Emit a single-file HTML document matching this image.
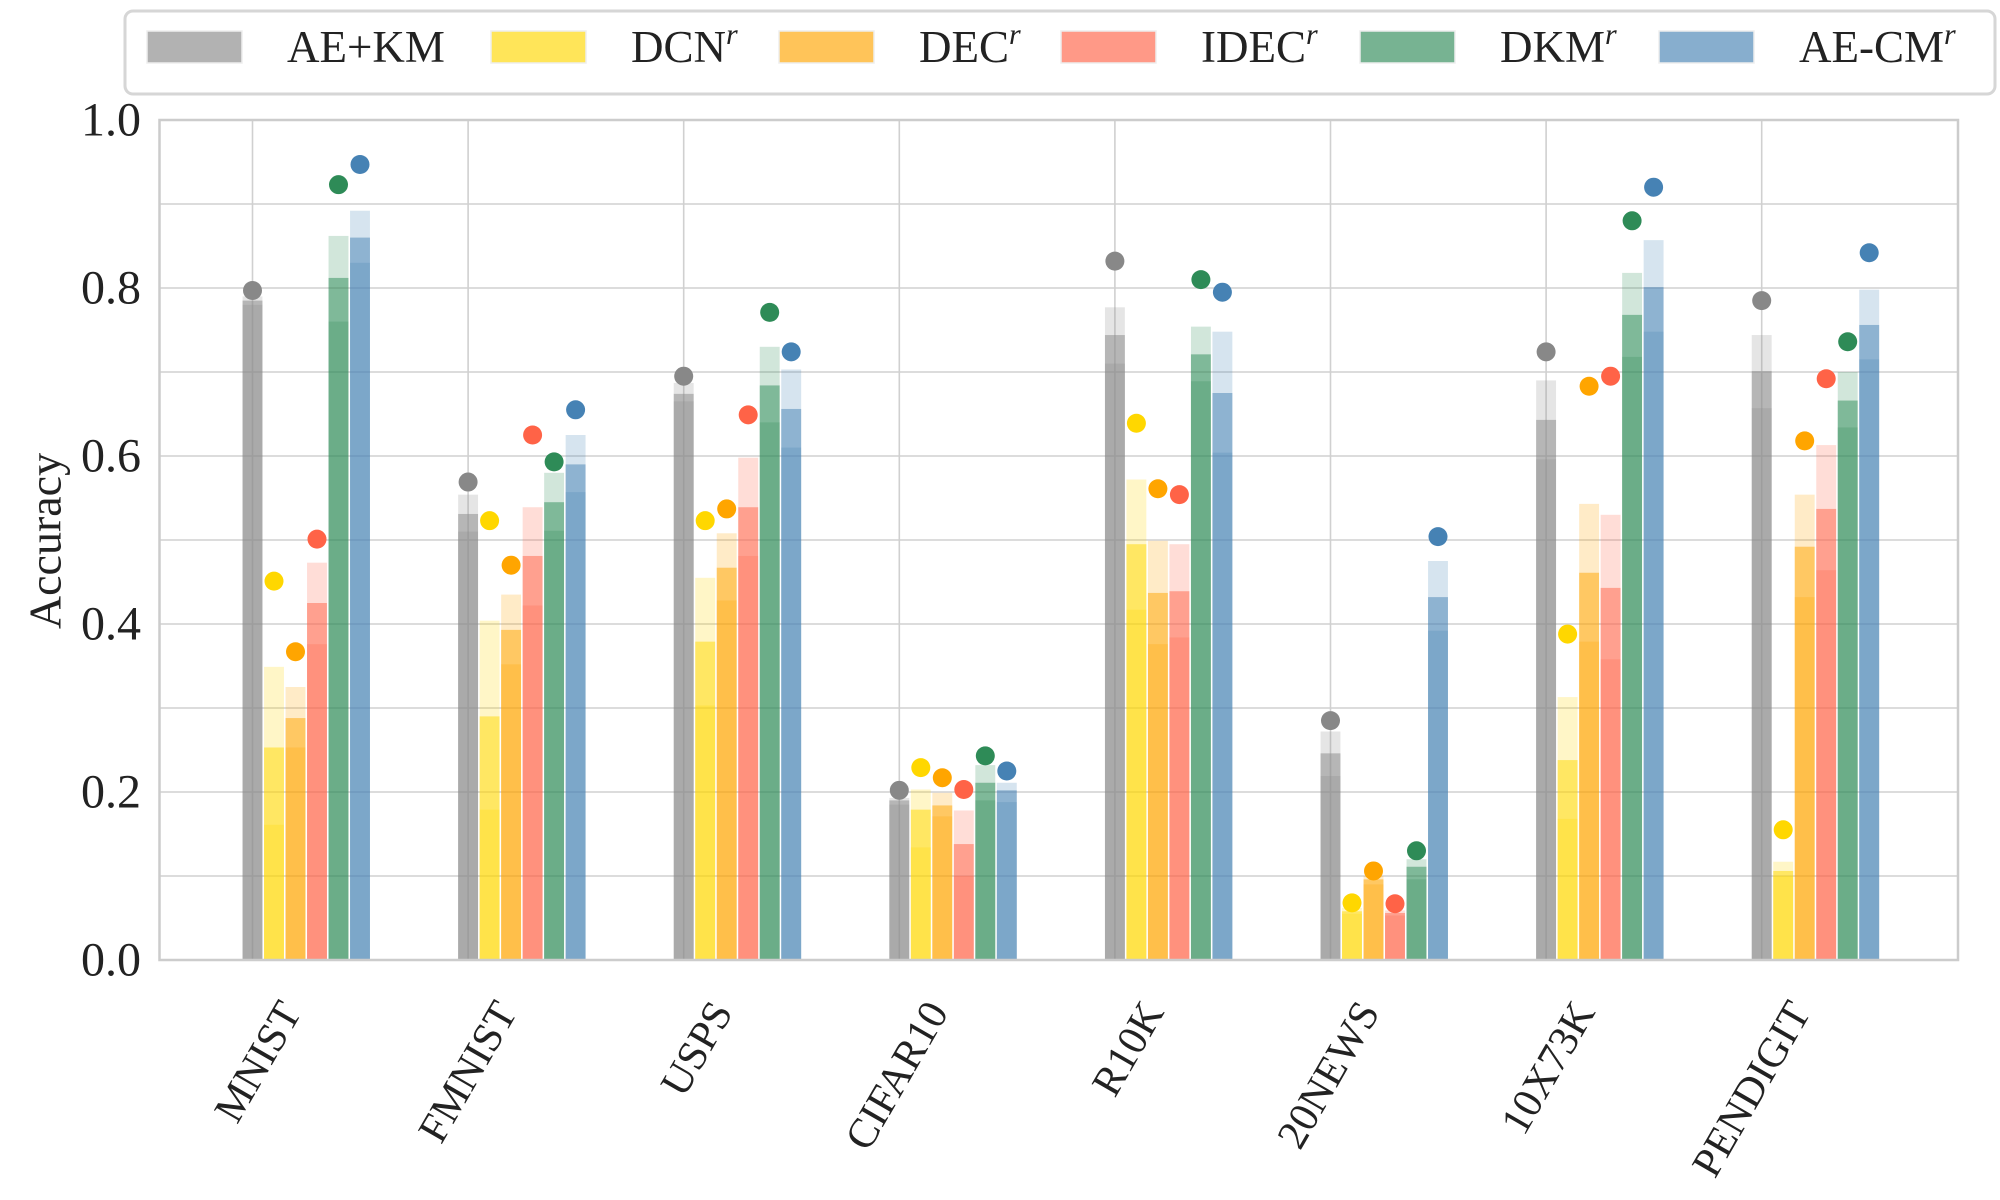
<!DOCTYPE html>
<html><head><meta charset="utf-8"><style>
body{margin:0;background:#fff;}
svg{display:block;font-family:"Liberation Serif","Times New Roman",serif;}
svg text{font-family:"Liberation Serif","Times New Roman",serif;}
</style></head><body>
<svg id="chart" width="2000" height="1200" viewBox="0 0 2000 1200">
<g id="grid"></g>
<g id="bars"></g>
<g id="dots"></g>
<g id="axes"></g>
<text x="45" y="541" transform="rotate(-90 45 541)" text-anchor="middle" dominant-baseline="central" font-size="46" fill="#222">Accuracy</text>
<g id="legend">
<rect x="125" y="11" width="1870" height="83" rx="8" fill="#fff" stroke="#d6d6d6" stroke-width="3"/>
</g>
</svg>
<script>
const categories=["MNIST","FMNIST","USPS","CIFAR10","R10K","20NEWS","10X73K","PENDIGIT"];
const methods=["AE+KM","DCN","DEC","IDEC","DKM","AE-CM"];
const colors=["#888888","#FFD700","#FFA500","#FF6347","#2E8B57","#4682B4"];
const yTicks=[0,0.2,0.4,0.6,0.8,1.0];
// best (dot) values per method, per category
const bestAEKM=[0.797,0.569,0.695,0.202,0.832,0.285,0.724,0.785];
const bestDCN=[0.451,0.523,0.523,0.229,0.639,0.068,0.388,0.155];
const bestDEC=[0.367,0.470,0.537,0.217,0.561,0.106,0.683,0.618];
const bestIDEC=[0.501,0.625,0.649,0.203,0.554,0.067,0.695,0.692];
const bestDKM=[0.923,0.593,0.771,0.243,0.810,0.130,0.880,0.736];
const bestAECM=[0.947,0.655,0.724,0.225,0.795,0.504,0.920,0.842];
// upper (light) bar values
const highAEKM=[0.790,0.554,0.687,0.193,0.777,0.272,0.690,0.744];
const highDCN=[0.349,0.404,0.455,0.203,0.572,0.062,0.313,0.117];
const highDEC=[0.325,0.435,0.508,0.199,0.499,0.100,0.543,0.554];
const highIDEC=[0.473,0.539,0.598,0.178,0.495,0.059,0.530,0.613];
const highDKM=[0.862,0.580,0.730,0.232,0.754,0.120,0.818,0.700];
const highAECM=[0.892,0.625,0.703,0.211,0.748,0.475,0.857,0.798];
// mean (middle) bar values
const meanAEKM=[0.785,0.531,0.674,0.190,0.744,0.246,0.643,0.701];
const meanDCN=[0.253,0.290,0.379,0.179,0.495,0.058,0.238,0.106];
const meanDEC=[0.288,0.393,0.467,0.184,0.437,0.096,0.461,0.492];
const meanIDEC=[0.425,0.481,0.539,0.138,0.439,0.056,0.443,0.537];
const meanDKM=[0.812,0.545,0.684,0.211,0.721,0.111,0.768,0.666];
const meanAECM=[0.860,0.590,0.656,0.202,0.675,0.432,0.801,0.756];
// lower bar values
const lowAEKM=[0.780,0.510,0.665,0.185,0.710,0.219,0.596,0.657];
const lowDCN=[0.161,0.179,0.303,0.134,0.417,0.055,0.168,0.100];
const lowDEC=[0.253,0.352,0.428,0.171,0.376,0.090,0.379,0.432];
const lowIDEC=[0.376,0.422,0.481,0.100,0.384,0.053,0.358,0.464];
const lowDKM=[0.760,0.511,0.640,0.190,0.689,0.096,0.718,0.634];
const lowAECM=[0.830,0.557,0.610,0.188,0.604,0.392,0.748,0.715];

const best=[bestAEKM,bestDCN,bestDEC,bestIDEC,bestDKM,bestAECM];
const high=[highAEKM,highDCN,highDEC,highIDEC,highDKM,highAECM];
const mean=[meanAEKM,meanDCN,meanDEC,meanIDEC,meanDKM,meanAECM];
const low=[lowAEKM,lowDCN,lowDEC,lowIDEC,lowDKM,lowAECM];

const NS="http://www.w3.org/2000/svg";
const L=159.5,R=1958,T=120,B=960;
const groupW=215.6,x0=252.5,bw=21.5;
const y=v=>B-(v)*(B-T);
const xc=i=>x0+i*groupW;
function mk(tag,attrs,parent){const e=document.createElementNS(NS,tag);for(const k in attrs)e.setAttribute(k,attrs[k]);parent.appendChild(e);return e;}
const grid=document.getElementById('grid'),bars=document.getElementById('bars'),dots=document.getElementById('dots'),axes=document.getElementById('axes'),legend=document.getElementById('legend');
mk('rect',{x:L,y:T,width:R-L,height:B-T,fill:'#fff'},grid);
for(let k=0;k<=10;k++){const v=k*0.1;const ln=mk('line',{x1:L,x2:R,y1:y(v),y2:y(v),stroke:'#d0d0d0','stroke-width':1.6},grid);

}
categories.forEach((c,i)=>{const ln=mk('line',{x1:xc(i),x2:xc(i),y1:T,y2:B,stroke:'#d0d0d0','stroke-width':1.6},grid);

});
categories.forEach((c,i)=>{
 methods.forEach((m,j)=>{
  const bx=xc(i)-bw/2+j*bw;
  [[high,0.22],[mean,0.5],[low,0.25]].forEach(([arr,a],l)=>{
   const v=arr[j][i];
   const r=mk('rect',{x:bx+0.8,y:y(v),width:bw-1.6,height:B-y(v),fill:colors[j],'fill-opacity':a},bars);
   
   
  });
  const d=mk('circle',{cx:bx+bw/2,cy:y(best[j][i]),r:9.5,fill:colors[j]},dots);
  
  
 });
 const tx=xc(i)+50,ty=1012;
 const t=mk('text',{x:tx,y:ty,'text-anchor':'end','font-size':42,fill:'#222',transform:`rotate(-60 ${tx} ${ty})`},axes);
 t.textContent=c;
 
 
});
mk('rect',{x:L,y:T,width:R-L,height:B-T,fill:'none',stroke:'#cccccc','stroke-width':2.5},axes);
yTicks.forEach(v=>{const t=mk('text',{x:141,y:y(v),'text-anchor':'end','dominant-baseline':'central','font-size':48,fill:'#222'},axes);
 t.textContent=v.toFixed(1);
 
 });
const patchX=[147,491,779,1061,1360,1659];
const labels=["AE+KM","DCN","DEC","IDEC","DKM","AE-CM"];
labels.forEach((lb,j)=>{
 const p=mk('rect',{x:patchX[j],y:31,width:95,height:32,fill:colors[j],'fill-opacity':0.65,stroke:'#eee','stroke-width':1.5},legend);
 
 
 const t=mk('text',{x:patchX[j]+140,y:62,'font-size':45,fill:'#222'},legend);
 t.textContent=lb;
 if(j>0){const s=document.createElementNS(NS,'tspan');s.setAttribute('font-style','italic');s.setAttribute('font-size','30');s.setAttribute('dy','-18');s.textContent='r';t.appendChild(s);}
 
 
});
</script>
</body></html>
